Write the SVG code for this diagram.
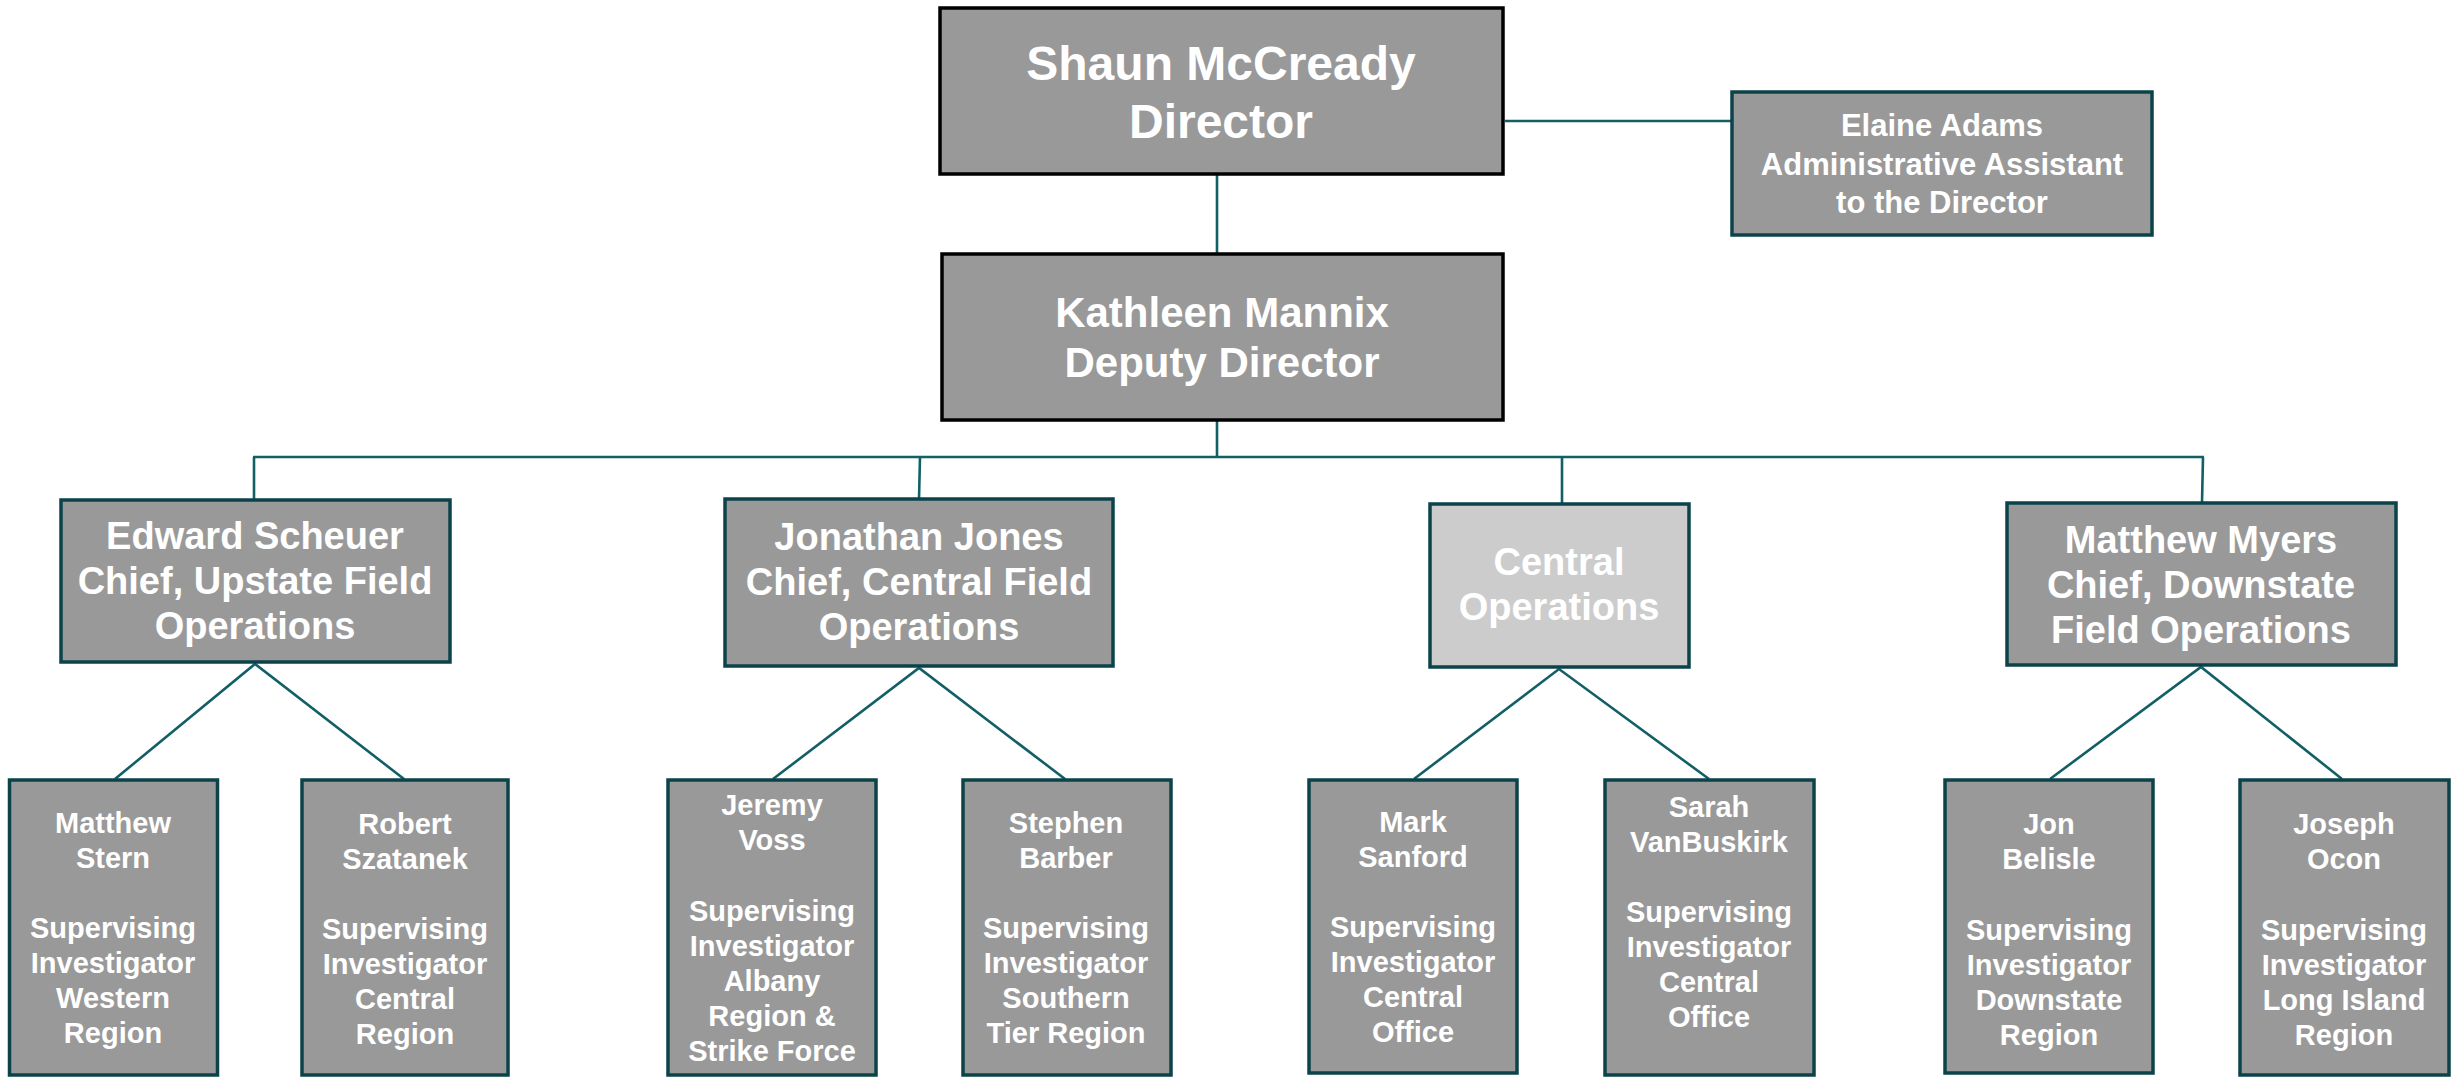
<svg xmlns="http://www.w3.org/2000/svg" width="2455" height="1078" viewBox="0 0 2455 1078">
<style>
.box{fill:#999999;stroke:#0b434b;stroke-width:3.5}
.top{fill:#999999;stroke:#000000;stroke-width:3.5}
.light{fill:#cccccc;stroke:#0b434b;stroke-width:3.5}
.conn{stroke:#135f66;stroke-width:2.6;fill:none}
text{font-family:"Liberation Sans",Arial,sans-serif;font-weight:bold;fill:#ffffff;text-anchor:middle}
.t48{font-size:48px}
.t42{font-size:42px}
.t38{font-size:38px}
.t31{font-size:31px}
.t29{font-size:29px}
</style>
<rect width="2455" height="1078" fill="#ffffff"/>
<g id="connectors">
<line class="conn" x1="1505" y1="121" x2="1731" y2="121"/>
<line class="conn" x1="1217" y1="174" x2="1217" y2="254"/>
<line class="conn" x1="1217" y1="420" x2="1217" y2="457"/>
<line class="conn" x1="253" y1="457" x2="2204" y2="457"/>
<line class="conn" x1="254" y1="457" x2="254" y2="500"/>
<line class="conn" x1="920" y1="457" x2="919" y2="499"/>
<line class="conn" x1="1562" y1="457" x2="1562" y2="504"/>
<line class="conn" x1="2203" y1="457" x2="2202" y2="503"/>
<polyline class="conn" points="115,779 255,664 404,779"/>
<polyline class="conn" points="773,779 919,668 1065,779"/>
<polyline class="conn" points="1414,779 1559,669 1709,779"/>
<polyline class="conn" points="2050,779 2201,667 2342,779"/>
</g>
<g id="director">
<rect class="top" x="940" y="8" width="563" height="166"/>
<text class="t48" x="1221" y="80">Shaun McCready</text>
<text class="t48" x="1221" y="138">Director</text>
</g>
<g id="assistant">
<rect class="box" x="1732" y="92" width="420" height="143"/>
<text class="t31" x="1942" y="136">Elaine Adams</text>
<text class="t31" x="1942" y="175">Administrative Assistant</text>
<text class="t31" x="1942" y="213">to the Director</text>
</g>
<g id="deputy">
<rect class="top" x="942" y="254" width="561" height="166"/>
<text class="t42" x="1222" y="327">Kathleen Mannix</text>
<text class="t42" x="1222" y="377">Deputy Director</text>
</g>
<g id="upstate">
<rect class="box" x="61" y="500" width="389" height="162"/>
<text class="t38" x="255" y="549">Edward Scheuer</text>
<text class="t38" x="255" y="594">Chief, Upstate Field</text>
<text class="t38" x="255" y="639">Operations</text>
</g>
<g id="central-field">
<rect class="box" x="725" y="499" width="388" height="167"/>
<text class="t38" x="919" y="550">Jonathan Jones</text>
<text class="t38" x="919" y="595">Chief, Central Field</text>
<text class="t38" x="919" y="640">Operations</text>
</g>
<g id="central-ops">
<rect class="light" x="1430" y="504" width="259" height="163"/>
<text class="t38" x="1559" y="575">Central</text>
<text class="t38" x="1559" y="620">Operations</text>
</g>
<g id="downstate">
<rect class="box" x="2007" y="503" width="389" height="162"/>
<text class="t38" x="2201" y="553">Matthew Myers</text>
<text class="t38" x="2201" y="598">Chief, Downstate</text>
<text class="t38" x="2201" y="643">Field Operations</text>
</g>
<g id="stern">
<rect class="box" x="9.5" y="780" width="208" height="295"/>
<text class="t29" x="113" y="833">Matthew</text>
<text class="t29" x="113" y="868">Stern</text>
<text class="t29" x="113" y="938">Supervising</text>
<text class="t29" x="113" y="973">Investigator</text>
<text class="t29" x="113" y="1008">Western</text>
<text class="t29" x="113" y="1043">Region</text>
</g>
<g id="szatanek">
<rect class="box" x="302" y="780" width="206" height="295"/>
<text class="t29" x="405" y="834">Robert</text>
<text class="t29" x="405" y="869">Szatanek</text>
<text class="t29" x="405" y="939">Supervising</text>
<text class="t29" x="405" y="974">Investigator</text>
<text class="t29" x="405" y="1009">Central</text>
<text class="t29" x="405" y="1044">Region</text>
</g>
<g id="voss">
<rect class="box" x="668" y="780" width="208" height="295"/>
<text class="t29" x="772" y="815">Jeremy</text>
<text class="t29" x="772" y="850">Voss</text>
<text class="t29" x="772" y="921">Supervising</text>
<text class="t29" x="772" y="956">Investigator</text>
<text class="t29" x="772" y="991">Albany</text>
<text class="t29" x="772" y="1026">Region &amp;</text>
<text class="t29" x="772" y="1061">Strike Force</text>
</g>
<g id="barber">
<rect class="box" x="963" y="780" width="208" height="295"/>
<text class="t29" x="1066" y="833">Stephen</text>
<text class="t29" x="1066" y="868">Barber</text>
<text class="t29" x="1066" y="938">Supervising</text>
<text class="t29" x="1066" y="973">Investigator</text>
<text class="t29" x="1066" y="1008">Southern</text>
<text class="t29" x="1066" y="1043">Tier Region</text>
</g>
<g id="sanford">
<rect class="box" x="1309" y="780" width="208" height="293"/>
<text class="t29" x="1413" y="832">Mark</text>
<text class="t29" x="1413" y="867">Sanford</text>
<text class="t29" x="1413" y="937">Supervising</text>
<text class="t29" x="1413" y="972">Investigator</text>
<text class="t29" x="1413" y="1007">Central</text>
<text class="t29" x="1413" y="1042">Office</text>
</g>
<g id="vanbuskirk">
<rect class="box" x="1605" y="780" width="209" height="295"/>
<text class="t29" x="1709" y="817">Sarah</text>
<text class="t29" x="1709" y="852">VanBuskirk</text>
<text class="t29" x="1709" y="922">Supervising</text>
<text class="t29" x="1709" y="957">Investigator</text>
<text class="t29" x="1709" y="992">Central</text>
<text class="t29" x="1709" y="1027">Office</text>
</g>
<g id="belisle">
<rect class="box" x="1945" y="780" width="208" height="293"/>
<text class="t29" x="2049" y="834">Jon</text>
<text class="t29" x="2049" y="869">Belisle</text>
<text class="t29" x="2049" y="940">Supervising</text>
<text class="t29" x="2049" y="975">Investigator</text>
<text class="t29" x="2049" y="1010">Downstate</text>
<text class="t29" x="2049" y="1045">Region</text>
</g>
<g id="ocon">
<rect class="box" x="2240" y="780" width="209" height="295"/>
<text class="t29" x="2344" y="834">Joseph</text>
<text class="t29" x="2344" y="869">Ocon</text>
<text class="t29" x="2344" y="940">Supervising</text>
<text class="t29" x="2344" y="975">Investigator</text>
<text class="t29" x="2344" y="1010">Long Island</text>
<text class="t29" x="2344" y="1045">Region</text>
</g>
</svg>
